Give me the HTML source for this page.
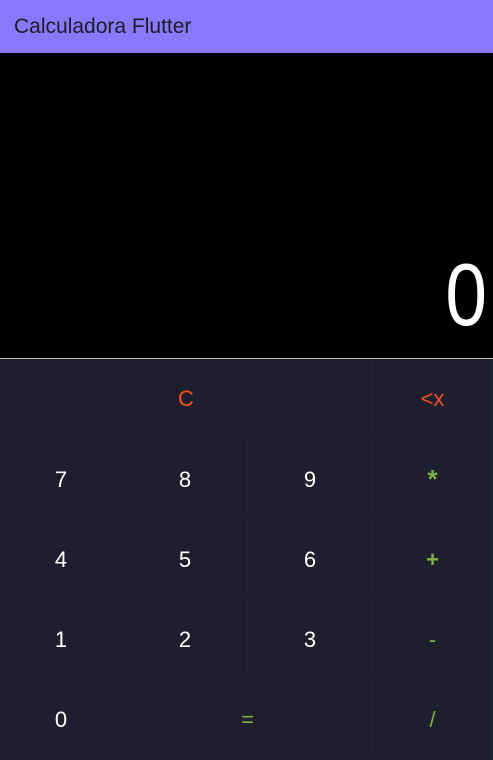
<!DOCTYPE html>
<html><head><meta charset="utf-8"><style>
*{margin:0;padding:0;box-sizing:border-box}
body{width:493px;height:756px;overflow:hidden;background:#1e1e2f;font-family:"Liberation Sans",sans-serif}
#bar{position:absolute;left:0;top:0;width:493px;height:53px;background:#8a78fc;color:#1d1b26;font-size:21px;line-height:53px;padding-left:14px}
#display{position:absolute;left:0;top:53px;width:493px;height:305px;background:#000}
#val{position:absolute;right:6px;top:198px;color:#fff;font-size:88px;line-height:88px;transform:scaleX(0.85);transform-origin:right center}
#sep{position:absolute;left:0;top:358px;width:493px;height:1px;background:#c4c4c4}
.k{position:absolute;display:flex;align-items:center;justify-content:center;font-size:22px;color:#fff;border-right:1px solid #232336;border-bottom:1px solid #232336;background:#1e1e2f}
.o{color:#f4511e}.g{color:#7cb342}
</style></head><body>
<div id="bar">Calculadora Flutter</div>
<div id="display"><div id="val">0</div></div>
<div id="sep"></div>
<div id="pad">
<div class="k o" style="left:0;top:359px;width:373px;height:81px">C</div>
<div class="k o" style="left:373px;top:359px;width:120px;height:81px">&lt;x</div>
<div class="k" style="left:0;top:440px;width:123px;height:80px">7</div>
<div class="k" style="left:123px;top:440px;width:125px;height:80px">8</div>
<div class="k" style="left:248px;top:440px;width:125px;height:80px">9</div>
<div class="k g" style="left:373px;top:440px;width:120px;height:80px;font-size:26px;font-weight:bold">*</div>
<div class="k" style="left:0;top:520px;width:123px;height:80px">4</div>
<div class="k" style="left:123px;top:520px;width:125px;height:80px">5</div>
<div class="k" style="left:248px;top:520px;width:125px;height:80px">6</div>
<div class="k g" style="left:373px;top:520px;width:120px;height:80px;font-weight:bold">+</div>
<div class="k" style="left:0;top:600px;width:123px;height:80px">1</div>
<div class="k" style="left:123px;top:600px;width:125px;height:80px">2</div>
<div class="k" style="left:248px;top:600px;width:125px;height:80px">3</div>
<div class="k g" style="left:373px;top:600px;width:120px;height:80px">-</div>
<div class="k" style="left:0;top:680px;width:123px;height:80px">0</div>
<div class="k g" style="left:123px;top:680px;width:250px;height:80px">=</div>
<div class="k g" style="left:373px;top:680px;width:120px;height:80px">/</div>
</div>
</body></html>
